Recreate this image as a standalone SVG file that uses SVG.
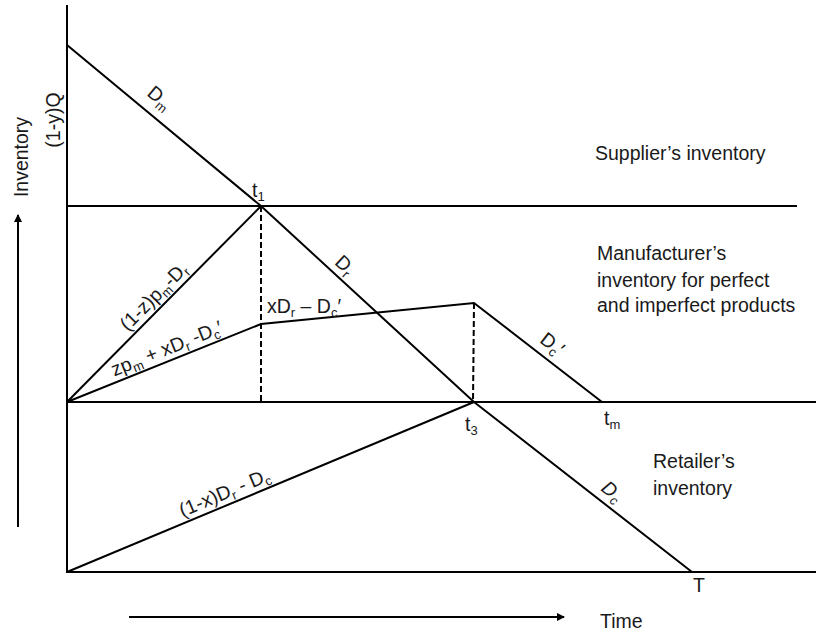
<svg xmlns="http://www.w3.org/2000/svg" width="816" height="632" viewBox="0 0 816 632">
<style>
.ln{stroke:#000;stroke-width:2;fill:none}
.ds{stroke:#000;stroke-width:2;fill:none;stroke-dasharray:6,3}
text{font-family:"Liberation Sans",Arial,sans-serif;font-size:19.5px;fill:#1a1a1a}
.sb{font-size:13px}
</style>
<defs>
<marker id="ah" markerWidth="8" markerHeight="8" refX="7" refY="4" orient="auto" markerUnits="userSpaceOnUse">
<path d="M0,0 L8,4 L0,8 Z" fill="#000"/>
</marker>
</defs>
<rect width="816" height="632" fill="#fff"/>
<g id="connectors">
<path class="ln" d="M67,5 V572 H816"/>
<path class="ln" d="M67,206 H797"/>
<path class="ln" d="M67,402 H816"/>
<path class="ln" d="M67,45 L261,206 L474,402 L692,572"/>
<path class="ln" d="M67,402 L261,206"/>
<path class="ln" d="M67,402 L261,324 L474,303 L602,402"/>
<path class="ln" d="M67,572 L474,402"/>
<path class="ds" d="M261,206 V402"/>
<path class="ds" d="M474,303 L473,402"/>
<path class="ln" d="M18,527 V215" marker-end="url(#ah)"/>
<path class="ln" d="M129,617 H564" marker-end="url(#ah)"/>
</g>
<g id="axis-labels">
<text transform="translate(28,157) rotate(-90)" text-anchor="middle" font-size="20">Inventory</text>
<text transform="translate(60,120) rotate(-90)" text-anchor="middle">(1-y)Q</text>
<text x="600" y="628">Time</text>
</g>
<g id="time-labels">
<text x="252" y="197">t<tspan class="sb" dy="4">1</tspan></text>
<text x="465" y="431">t<tspan class="sb" dy="4">3</tspan></text>
<text x="604" y="425">t<tspan class="sb" dy="4">m</tspan></text>
<text x="693" y="592">T</text>
</g>
<g id="rate-labels">
<text transform="translate(148,112) rotate(39.7)" y="-12" text-anchor="middle">D<tspan class="sb" dy="4">m</tspan></text>
<text transform="translate(162.5,305.4) rotate(-45.3)" y="-6" text-anchor="middle">(1-z)p<tspan class="sb" dy="4">m</tspan><tspan dy="-4">-D</tspan><tspan class="sb" dy="4">r</tspan></text>
<text transform="translate(171.3,360.1) rotate(-21.9)" y="-6" text-anchor="middle">zp<tspan class="sb" dy="4">m</tspan><tspan dy="-4"> + xD</tspan><tspan class="sb" dy="4">r</tspan><tspan dy="-4"> -D</tspan><tspan class="sb" dy="4">c</tspan><tspan dy="-4">′</tspan></text>
<text x="267" y="313">xD<tspan class="sb" dy="4">r</tspan><tspan dy="-4"> – D</tspan><tspan class="sb" dy="4">c</tspan><tspan dy="-4">′</tspan></text>
<text transform="translate(335.9,274.9) rotate(42.6)" y="-7" text-anchor="middle">D<tspan class="sb" dy="4">r</tspan></text>
<text transform="translate(542.8,356.2) rotate(37.7)" y="-9" text-anchor="middle">D<tspan class="sb" dy="4">c</tspan><tspan dy="-4">′</tspan></text>
<text transform="translate(229.3,504.1) rotate(-22.7)" y="-6" text-anchor="middle">(1-x)D<tspan class="sb" dy="4">r</tspan><tspan dy="-4"> - D</tspan><tspan class="sb" dy="4">c</tspan></text>
<text transform="translate(603.2,502.7) rotate(37.9)" y="-8" text-anchor="middle" font-style="italic">D<tspan class="sb" dy="4">c</tspan></text>
</g>
<g id="supplier">
<text x="595" y="160">Supplier’s inventory</text>
</g>
<g id="manufacturer">
<text x="597" y="260">Manufacturer’s</text>
<text x="597" y="287">inventory for perfect</text>
<text x="597" y="312">and imperfect products</text>
</g>
<g id="retailer">
<text x="653" y="468">Retailer’s</text>
<text x="653" y="495">inventory</text>
</g>
</svg>
